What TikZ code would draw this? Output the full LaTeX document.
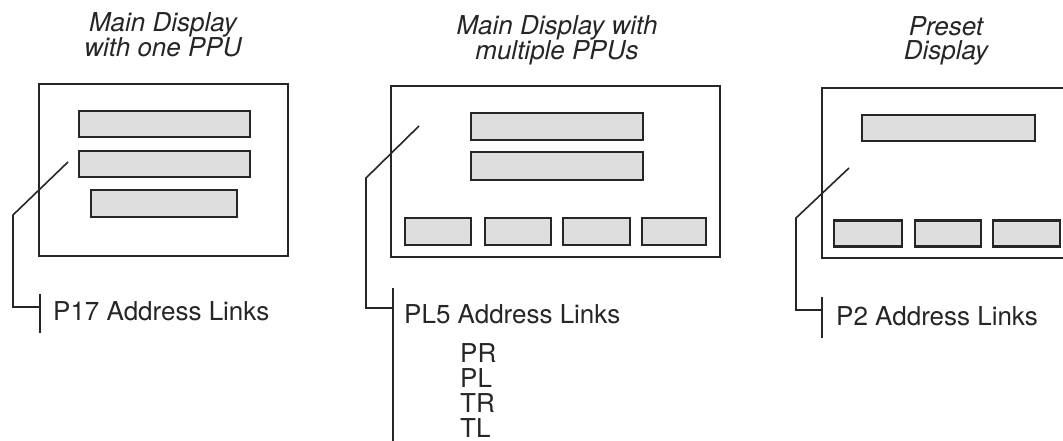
\documentclass[tikz,border=0pt]{standalone}
\usepackage{fontspec}
\setmainfont{TeX Gyre Heros}
\begin{document}
\begin{tikzpicture}[x=1pt,y=-1pt,
  panel/.style={draw=black!85, line width=1.8pt, inner sep=0pt},
  lcd/.style={draw=black!85, line width=2.2pt, fill=black!13, inner sep=0pt},
  lead/.style={draw=black!85, line width=1.6pt},
  lbl/.style={font=\fontsize{26}{25}\selectfont, inner sep=0pt, anchor=base west, text=black!85},
  ttl/.style={font=\fontsize{26}{24.5}\selectfont\itshape, align=center, inner sep=0pt, anchor=base, text=black!85}]
\useasboundingbox (0,0) rectangle (1063,441);
\clip (0,0) rectangle (1063,441);
% ---------- Panel 1 ----------
\node[ttl] (t1) at (163,57) {Main Display\\with one PPU};
\node[panel, minimum width=249pt, minimum height=172pt] (p1) at (163.5,170) {};
\node[lcd, minimum width=171pt, minimum height=26pt] (a1) at (164.5,124) {};
\node[lcd, minimum width=171pt, minimum height=26pt] (a2) at (164.5,164) {};
\node[lcd, minimum width=146pt, minimum height=27pt] (a3) at (164,203.5) {};
\coordinate (s1) at (68,162);
\coordinate (k1) at (13,215);
\coordinate (j1) at (13,307);
\coordinate (bt1) at (40,294);
\coordinate (bb1) at (40,333);
\coordinate (bm1) at (40,307);
\draw[lead] (s1) -- (k1) -- (j1) -- (bm1);
\draw[lead] (bt1) -- (bb1);
\node[lbl] (l1) at (53,320) {P17 Address Links};
% ---------- Panel 2 ----------
\node[ttl] (t2) at (557,60) {Main Display with\\multiple PPUs};
\node[panel, minimum width=329pt, minimum height=171pt] (p2) at (555.5,171.5) {};
\node[lcd, minimum width=172pt, minimum height=27pt] (b1) at (557,126.5) {};
\node[lcd, minimum width=172pt, minimum height=28pt] (b2) at (557,166) {};
\node[lcd, minimum width=66pt, minimum height=27pt] (c1) at (438,231.5) {};
\node[lcd, minimum width=66pt, minimum height=27pt] (c2) at (518,231.5) {};
\node[lcd, minimum width=67pt, minimum height=27pt] (c3) at (596.5,231.5) {};
\node[lcd, minimum width=64pt, minimum height=27pt] (c4) at (674,231.5) {};
\coordinate (s2) at (419,126);
\coordinate (k2) at (366,178);
\coordinate (j2) at (366,308);
\coordinate (bt2) at (393,288);
\coordinate (bb2) at (393,445);
\coordinate (bm2) at (393,308);
\draw[lead] (s2) -- (k2) -- (j2) -- (bm2);
\draw[lead] (bt2) -- (bb2);
\node[lbl] (l2) at (404,323) {PL5 Address Links};
\node[lbl] (pr) at (460,362) {PR};
\node[lbl] (pl) at (460,387) {PL};
\node[lbl] (tr) at (460,412) {TR};
\node[lbl] (tl) at (460,437) {TL};
% ---------- Panel 3 ----------
\node[ttl] (t3) at (946,60) {Preset\\Display};
\node[panel, minimum width=270pt, minimum height=170pt] (p3) at (957,173) {};
\node[lcd, minimum width=173pt, minimum height=26pt] (d1) at (948.5,128) {};
\node[lcd, minimum width=68pt, minimum height=26pt] (e1) at (868,233.5) {};
\node[lcd, minimum width=66pt, minimum height=26pt] (e2) at (948,233.5) {};
\node[lcd, minimum width=67pt, minimum height=26pt] (e3) at (1026.5,233.5) {};
\coordinate (s3) at (849,168);
\coordinate (k3) at (796,218);
\coordinate (j3) at (796,310);
\coordinate (bt3) at (822,297);
\coordinate (bb3) at (822,338);
\coordinate (bm3) at (822,310);
\draw[lead] (s3) -- (k3) -- (j3) -- (bm3);
\draw[lead] (bt3) -- (bb3);
\node[lbl] (l3) at (836,325) {P2 Address Links};
\end{tikzpicture}
\end{document}
